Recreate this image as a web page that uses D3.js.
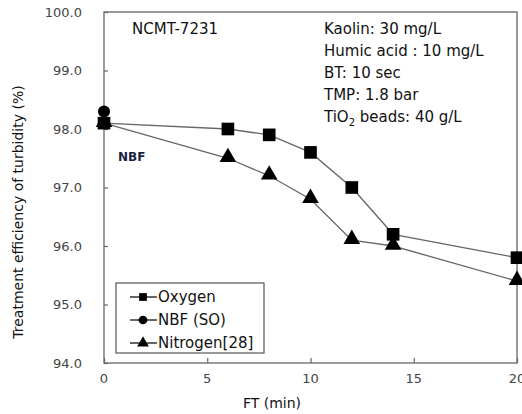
<!DOCTYPE html>
<html lang="en">
<head>
<meta charset="utf-8">
<title>Turbidity treatment efficiency</title>
<script src="https://d3js.org/d3.v7.min.js"></script>
<style>
  body { margin: 0; background: #fff; }
  text { font-family: "DejaVu Sans", Arial, sans-serif; }
</style>
</head>
<body>
<script>
// data
var oxygenFT = [0, 6, 8, 10, 12, 14, 20];
var oxygenVal = [98.1, 98.0, 97.9, 97.6, 97.0, 96.2, 95.8];
var nitrogenFT = [0, 6, 8, 10, 12, 14, 20];
var nitrogenVal = [98.1, 97.5, 97.2, 96.8, 96.1, 96.0, 95.4];
var nbfFT = [0];
var nbfVal = [98.3];
var xTicks = [0, 5, 10, 15, 20];
var yTicks = [94, 95, 96, 97, 98, 99, 100];
var conditions = ["Kaolin: 30 mg/L", "Humic acid : 10 mg/L", "BT: 10 sec", "TMP: 1.8 bar", "TiO2 beads: 40 g/L"];

var W = 522, H = 414;
var pLeft = 104, pRight = 517, pTop = 12, pBottom = 363;

var svg = d3.select("body").append("svg")
  .attr("width", W)
  .attr("height", H);

var x = d3.scaleLinear().domain([0, 20]).range([pLeft, pRight]);
var y = d3.scaleLinear().domain([94, 100]).range([pBottom, pTop]);

var axisCol = "#666";

// frame
svg.append("rect")
  .attr("x", pLeft).attr("y", pTop)
  .attr("width", pRight - pLeft).attr("height", pBottom - pTop)
  .attr("fill", "none").attr("stroke", axisCol).attr("stroke-width", 1.3);

// y axis (ticks inward)
var yAxis = svg.append("g")
  .attr("transform", "translate(" + pLeft + ",0)")
  .call(d3.axisRight(y).tickValues(yTicks).tickSize(4).tickFormat(""));
yAxis.select(".domain").remove();
yAxis.selectAll("line").attr("stroke", axisCol).attr("stroke-width", 1.2);

svg.selectAll(".ylab").data(yTicks).enter().append("text")
  .attr("x", 82)
  .attr("y", function(d) { return y(d); })
  .attr("dy", "0.35em")
  .attr("text-anchor", "end")
  .attr("font-family", "Liberation Sans, Arial, sans-serif")
  .attr("font-size", 13)
  .attr("fill", "#444")
  .text(function(d) { return d3.format(".1f")(d); });

// x axis (ticks inward)
var xAxis = svg.append("g")
  .attr("transform", "translate(0," + pBottom + ")")
  .call(d3.axisTop(x).tickValues(xTicks).tickSize(5).tickFormat(""));
xAxis.select(".domain").remove();
xAxis.selectAll("line").attr("stroke", axisCol).attr("stroke-width", 1.2);

svg.selectAll(".xlab").data(xTicks).enter().append("text")
  .attr("x", function(d) { return x(d); })
  .attr("y", 383)
  .attr("text-anchor", "middle")
  .attr("font-family", "Liberation Sans, Arial, sans-serif")
  .attr("font-size", 13)
  .attr("fill", "#444")
  .text(function(d) { return d; });

// axis titles
svg.append("text")
  .attr("x", 272).attr("y", 408)
  .attr("text-anchor", "middle")
  .attr("font-size", 14)
  .attr("fill", "#111")
  .text("FT (min)");

svg.append("text")
  .attr("transform", "translate(23,212) rotate(-90)")
  .attr("text-anchor", "middle")
  .attr("font-family", "Liberation Sans, Arial, sans-serif")
  .attr("font-size", 14)
  .attr("fill", "#111")
  .text("Treatment efficiency of turbidity (%)");

// series
var line = d3.line()
  .x(function(d) { return x(d[0]); })
  .y(function(d) { return y(d[1]); });

var oxygen = d3.zip(oxygenFT, oxygenVal);
var nitrogen = d3.zip(nitrogenFT, nitrogenVal);
var nbf = d3.zip(nbfFT, nbfVal);

svg.append("path").datum(nitrogen).attr("d", line)
  .attr("fill", "none").attr("stroke", "#666").attr("stroke-width", 1.3);
svg.append("path").datum(oxygen).attr("d", line)
  .attr("fill", "none").attr("stroke", "#666").attr("stroke-width", 1.3);

var sq = d3.symbol().type(d3.symbolSquare).size(160);
var tri = d3.symbol().type(d3.symbolTriangle).size(120);
var circ = d3.symbol().type(d3.symbolCircle).size(115);

svg.selectAll(".nbf").data(nbf).enter().append("path")
  .attr("d", circ)
  .attr("transform", function(d) { return "translate(" + x(d[0]) + "," + y(d[1]) + ")"; })
  .attr("fill", "#000");

svg.selectAll(".tri").data(nitrogen).enter().append("path")
  .attr("d", tri)
  .attr("transform", function(d) { return "translate(" + x(d[0]) + "," + (y(d[1]) - 1) + ")"; })
  .attr("fill", "#000");

svg.selectAll(".sq").data(oxygen).enter().append("path")
  .attr("d", sq)
  .attr("transform", function(d) { return "translate(" + x(d[0]) + "," + y(d[1]) + ")"; })
  .attr("fill", "#000");

// annotations
svg.append("text")
  .attr("x", 132).attr("y", 34)
  .attr("font-size", 15)
  .attr("fill", "#111")
  .text("NCMT-7231");

svg.append("text")
  .attr("x", 118).attr("y", 161)
  .attr("font-size", 12)
  .attr("font-weight", "bold")
  .attr("fill", "#1c1c44")
  .text("NBF");

conditions.forEach(function(c, i) {
  var t = svg.append("text")
    .attr("x", 324)
    .attr("y", 34 + i * 22)
    .attr("font-size", 15)
    .attr("fill", "#111");
  if (c.indexOf("TiO2") === 0) {
    t.append("tspan").text("TiO");
    t.append("tspan").attr("font-size", 10).attr("dy", 4).text("2");
    t.append("tspan").attr("dy", -4).text(" beads: 40 g/L");
  } else {
    t.text(c);
  }
});

// legend
var legendNames = ["Oxygen", "NBF (SO)", "Nitrogen[28]"];
svg.append("rect")
  .attr("x", 116).attr("y", 283)
  .attr("width", 148).attr("height", 70)
  .attr("fill", "#fff").attr("stroke", "#555").attr("stroke-width", 1.2);

legendNames.forEach(function(n, i) {
  var ly = 297 + i * 23;
  svg.append("line")
    .attr("x1", 130).attr("x2", 157)
    .attr("y1", ly).attr("y2", ly)
    .attr("stroke", "#000").attr("stroke-width", 1.2);
  svg.append("path")
    .attr("d", d3.symbol().type([d3.symbolSquare, d3.symbolCircle, d3.symbolTriangle][i]).size(60))
    .attr("transform", "translate(143," + ly + ")")
    .attr("fill", "#000");
  svg.append("text")
    .attr("x", 158).attr("y", ly)
    .attr("dy", "0.36em")
    .attr("font-size", 15)
    .attr("fill", "#111")
    .text(n);
});
</script>
</body>
</html>
